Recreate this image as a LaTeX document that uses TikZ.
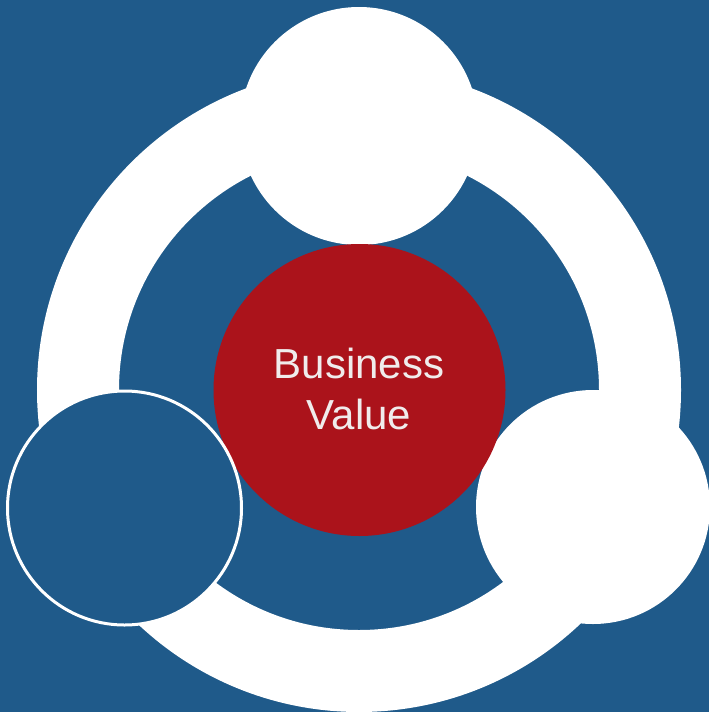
\documentclass[tikz,border=0pt]{standalone}
\usepackage{fontspec}
\setmainfont{Liberation Sans}
\definecolor{bgblue}{HTML}{1F5A8A}
\definecolor{corered}{HTML}{AB131B}
\definecolor{txt}{HTML}{F0ECEC}
\begin{document}
\begin{tikzpicture}[x=1pt,y=-1pt,
  disc/.style={circle,inner sep=0pt,outer sep=0pt},
  ringstyle/.style={disc,draw=white,line width=82pt,minimum size=562pt},
  whitedisc/.style={disc,fill=white,minimum size=#1},
  bluedisc/.style={disc,fill=bgblue,draw=white,line width=3pt,minimum size=#1},
  label/.style={font=\fontsize{42}{51}\selectfont,text=txt,align=center,inner sep=0pt}]
\fill[bgblue] (0,0) rectangle (709,712);
\useasboundingbox (0,0) rectangle (709,712);
\node[ringstyle] (ring) at (359,390) {};
\node[whitedisc=238pt] (top) at (359,126) {};
\node[whitedisc=234pt] (right) at (593,507) {};
\node[disc,fill=corered,minimum size=292pt] (core) at (359.5,390) {};
\node[bluedisc=234pt] (left) at (124.5,508) {};
\node[label,anchor=north] (bv) at (359,348) {Business\\Value};
\end{tikzpicture}
\end{document}
